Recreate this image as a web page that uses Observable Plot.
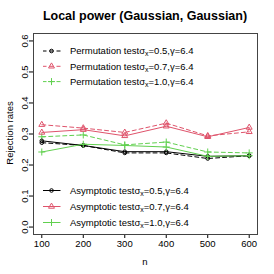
<!DOCTYPE html>
<html><head>
<meta charset="utf-8">
<script src="https://cdn.jsdelivr.net/npm/d3@7"></script>
<script src="https://cdn.jsdelivr.net/npm/@observablehq/plot@0.6"></script>
<style>body{margin:0;background:#fff}</style>
</head><body><div id="chart"></div>
<script>
const nValues = [100, 200, 300, 400, 500, 600];
const permSigma05 = [0.272, 0.263, 0.239, 0.239, 0.221, 0.230];
const permSigma07 = [0.330, 0.319, 0.305, 0.335, 0.294, 0.307];
const permSigma10 = [0.291, 0.297, 0.265, 0.274, 0.242, 0.239];
const asymSigma05 = [0.278, 0.263, 0.243, 0.243, 0.228, 0.230];
const asymSigma07 = [0.305, 0.314, 0.294, 0.325, 0.291, 0.321];
const asymSigma10 = [0.242, 0.267, 0.263, 0.258, 0.228, 0.230];
const xTicks = [100, 200, 300, 400, 500, 600];
const yTicks = [0, 0.1, 0.2, 0.3, 0.4, 0.5, 0.6];
const sigmaLabels = ["0.5", "0.7", "1.0"];
const colors = ["#000000", "#DF536B", "#61D04F"];
const symbols = ["circle", "triangle", "plus"];
const symbolR = [1.8, 2.2, 2.4];
const titleText = "Local power (Gaussian, Gaussian)";
const xLabel = "n";
const yLabel = "Rejection rates";

const series = [
  {test: "Permutation", s: 0, vals: permSigma05},
  {test: "Permutation", s: 1, vals: permSigma07},
  {test: "Permutation", s: 2, vals: permSigma10},
  {test: "Asymptotic", s: 0, vals: asymSigma05},
  {test: "Asymptotic", s: 1, vals: asymSigma07},
  {test: "Asymptotic", s: 2, vals: asymSigma10}
];
const rows = series.flatMap((d, i) => d.vals.map((v, j) => ({id: i, test: d.test, s: d.s, n: nValues[j], v})));

const marks = [Plot.frame({stroke: "#444"})];
series.forEach((d, i) => {
  const data = rows.filter(r => r.id === i);
  marks.push(Plot.line(data, {x: "n", y: "v", stroke: colors[d.s], strokeWidth: 1,
    strokeDasharray: d.test === "Permutation" ? "4,3" : null}));
  marks.push(Plot.dot(data, {x: "n", y: "v", stroke: colors[d.s], symbol: () => symbols[d.s], r: symbolR[d.s], fill: "none", strokeWidth: 1}));
});

const plot = Plot.plot({
  width: 274, height: 274,
  marginLeft: 33, marginRight: 17, marginTop: 33, marginBottom: 40,
  style: {fontFamily: "Liberation Sans, Arial, sans-serif", fontSize: "9.5px", background: "#fff"},
  x: {domain: [80, 620], ticks: xTicks, tickSize: 4, tickPadding: 2, label: null, tickFormat: d => d},
  y: {domain: [-0.024, 0.624], ticks: yTicks, tickSize: 4, tickPadding: 2, tickFormat: d3.format(".1f"), label: null, tickRotate: -90},
  marks
});
document.getElementById("chart").append(plot);

const svg = d3.select(plot);
const font = "Liberation Sans, Arial, sans-serif";
svg.append("text").attr("x", 145).attr("y", 20).attr("text-anchor", "middle")
  .attr("font-family", font).attr("font-weight", "bold").attr("font-size", 12.5).text(titleText);
svg.append("text").attr("x", 145).attr("y", 265).attr("text-anchor", "middle")
  .attr("font-family", font).attr("font-size", 9.5).text(xLabel);
svg.append("text").attr("transform", "translate(13,133) rotate(-90)").attr("text-anchor", "middle")
  .attr("font-family", font).attr("font-size", 9.5).text(yLabel);

function legendRow(test, s, y) {
  const g = svg.append("g").attr("transform", `translate(0,${y})`);
  g.append("line").attr("x1", 43).attr("x2", 60.5).attr("y1", 0).attr("y2", 0)
    .attr("stroke", colors[s]).attr("stroke-dasharray", test === "Permutation" ? "3.5,3,4,3,4" : null);
  const symMap = {circle: d3.symbolCircle, triangle: d3.symbolTriangle, plus: d3.symbolPlus};
  g.append("path").attr("transform", "translate(51.5,0)")
    .attr("d", d3.symbol(symMap[symbols[s]], Math.PI * symbolR[s] * symbolR[s])())
    .attr("fill", "none").attr("stroke", colors[s]);
  const t = g.append("text").attr("x", 70).attr("y", 3.3).attr("text-anchor", "start")
    .attr("font-family", font).attr("font-size", 9.5).attr("fill", "#000");
  t.append("tspan").text(test + " testσ");
  t.append("tspan").attr("font-size", 7).attr("dy", 2).text("x");
  t.append("tspan").attr("dy", -2).text("=" + sigmaLabels[s] + ",γ=6.4");
}
[0, 1, 2].forEach(s => legendRow("Permutation", s, 51 + s * 15.3));
[0, 1, 2].forEach(s => legendRow("Asymptotic", s, 190.5 + s * 16));
</script>
</body></html>
